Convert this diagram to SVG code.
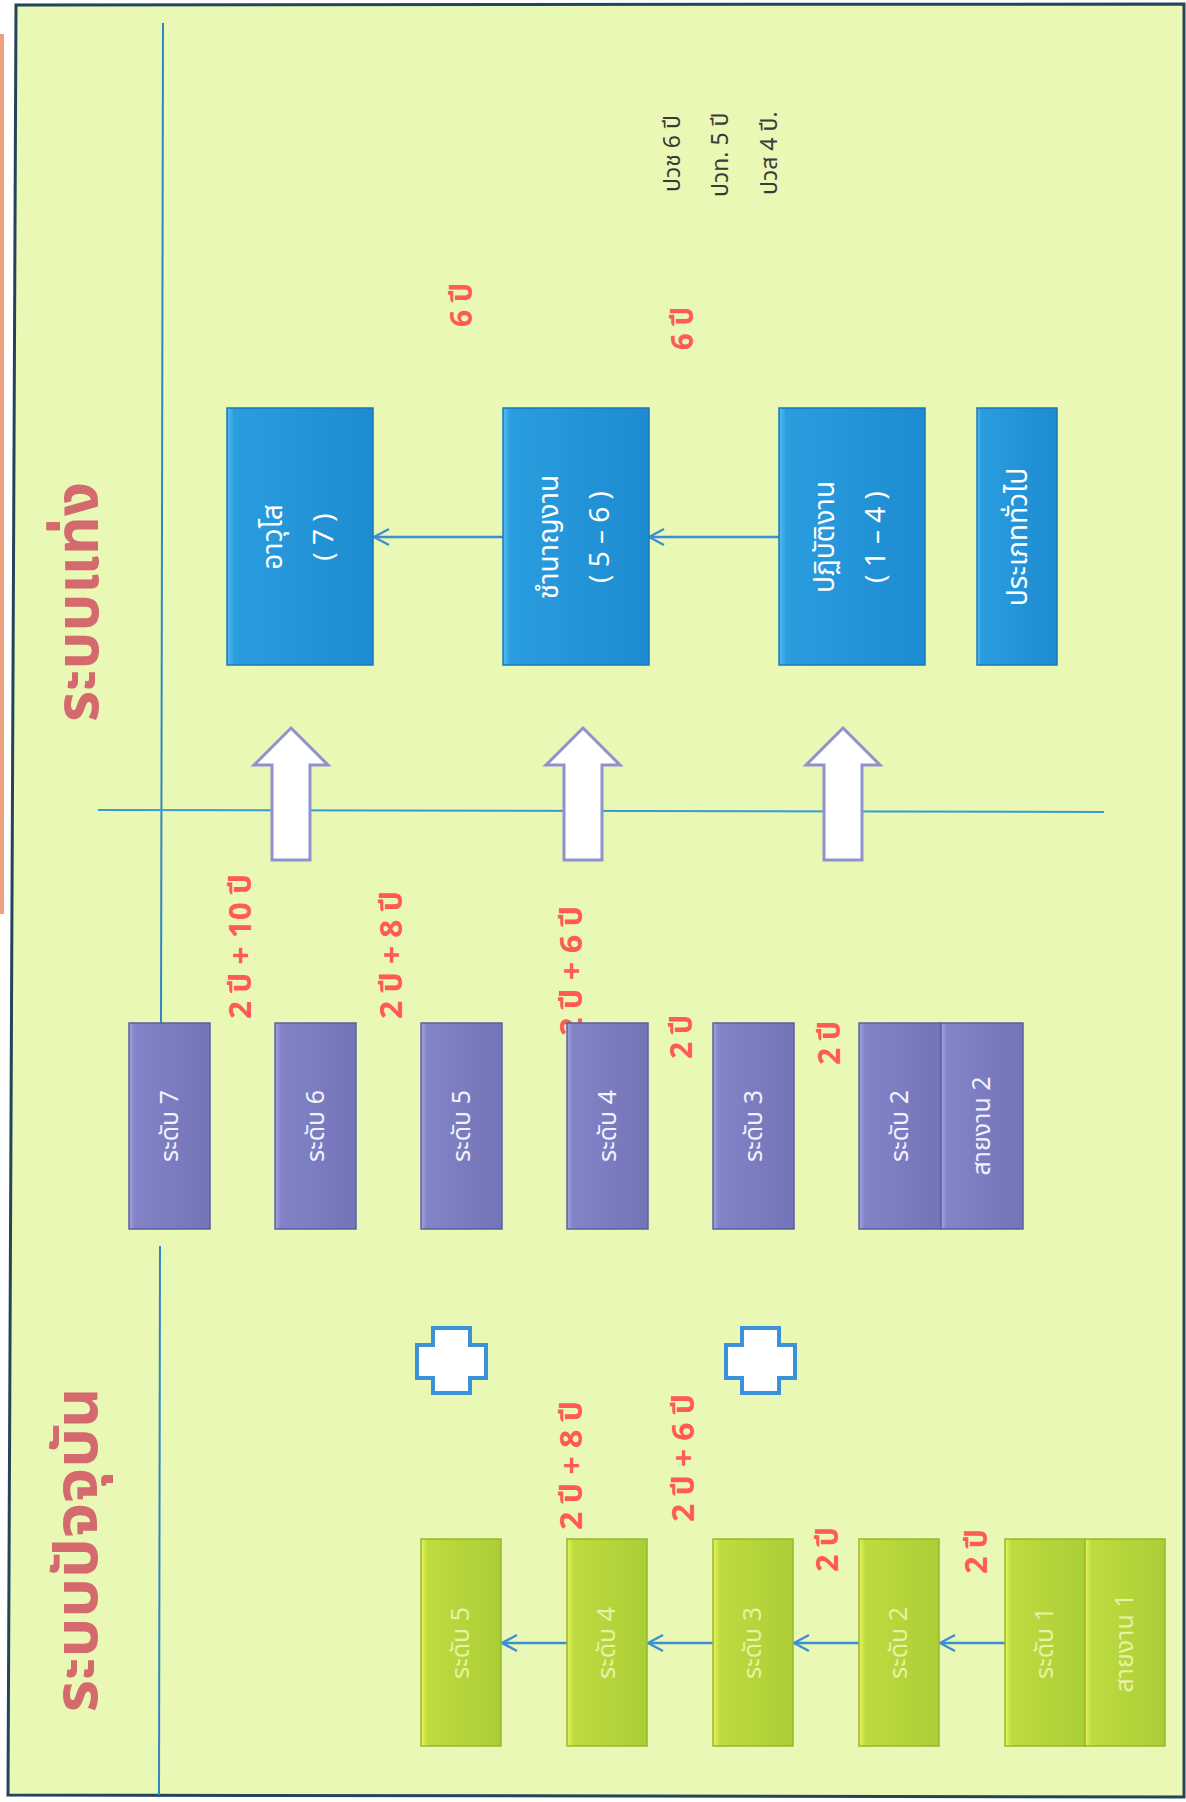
<svg xmlns="http://www.w3.org/2000/svg" width="1186" height="1802" viewBox="0 0 1186 1802">
<style>
.th{font-family:'Noto Sans Thai','Noto Sans','DejaVu Sans',sans-serif}
.title{font-size:60px;font-weight:bold;fill:#d4696e}
.red{font-size:30px;font-weight:bold;fill:#ff5a55}
.blk{font-size:23px;fill:#3a3a3a}
.bt{font-size:28px;fill:#ffffff}
.pt{font-size:25px;fill:#f2f2ff}
.gt{font-size:25px;fill:#e6f2a4}
.conn{stroke:#3a90d2;stroke-width:2.5;fill:none}
.guide{stroke:#2f86c0;stroke-width:2;fill:none}
.barrow{fill:#ffffff;stroke:#9092cf;stroke-width:3;stroke-linejoin:miter}
.plus{fill:#ffffff;stroke:#3c92d8;stroke-width:4}
.bluebox{fill:url(#gBlue);stroke:#1a78bb;stroke-width:1.5}
.purplebox{fill:url(#gPurple);stroke:#5e5f9f;stroke-width:1.5}
.greenbox{fill:url(#gGreen);stroke:#97b82c;stroke-width:1.5}
</style>
<defs>
<linearGradient id="gBlue" x1="0" y1="0" x2="1" y2="0">
<stop offset="0" stop-color="#55bdf0"/><stop offset="0.05" stop-color="#2a9ddf"/><stop offset="1" stop-color="#1d8bd0"/>
</linearGradient>
<linearGradient id="gPurple" x1="0" y1="0" x2="1" y2="0">
<stop offset="0" stop-color="#a3a4dc"/><stop offset="0.07" stop-color="#8384c8"/><stop offset="1" stop-color="#7374b8"/>
</linearGradient>
<linearGradient id="gGreen" x1="0" y1="0" x2="1" y2="0">
<stop offset="0" stop-color="#e8f45a"/><stop offset="0.08" stop-color="#bedc40"/><stop offset="1" stop-color="#abcd36"/>
</linearGradient>
<marker id="arr" viewBox="0 0 20 20" refX="18" refY="10" markerWidth="20" markerHeight="20" markerUnits="userSpaceOnUse" orient="auto">
<path d="M3,2 L18,10 L3,18" fill="none" stroke="#3a90d2" stroke-width="2.5"/>
</marker>
</defs>

<!-- page -->
<rect x="0" y="0" width="1186" height="1802" fill="#ffffff"/>
<rect x="0" y="34" width="4" height="880" fill="#e98a5e" opacity="0.8"/>
<path d="M16,5 L1184,4 L1184,1797 L8,1795 Z" fill="#eaf8b6" stroke="#24445a" stroke-width="3"/>

<!-- guide lines -->
<g id="guides">
<line class="guide" x1="163" y1="23" x2="161" y2="1023"/>
<line class="guide" x1="160" y1="1246" x2="159" y2="1795"/>
<line class="guide" x1="98" y1="810" x2="1104" y2="812" style="stroke:#3a9cc8"/>
</g>

<!-- titles -->
<text class="th title" transform="translate(98,602) rotate(-90)" text-anchor="middle" textLength="240" lengthAdjust="spacingAndGlyphs">ระบบแท่ง</text>
<text class="th title" transform="translate(97,1550) rotate(-90)" text-anchor="middle" textLength="325" lengthAdjust="spacingAndGlyphs">ระบบปัจจุบัน</text>

<!-- notes -->
<text class="th blk" transform="translate(680,192) rotate(-90)">ปวช 6 ปี</text>
<text class="th blk" transform="translate(728,197) rotate(-90)">ปวท. 5 ปี</text>
<text class="th blk" transform="translate(777,195) rotate(-90)">ปวส 4 ปี.</text>

<!-- red labels -->
<g id="labels">
<text class="th red" transform="translate(472,327) rotate(-90)" textLength="44" lengthAdjust="spacingAndGlyphs">6 ปี</text>
<text class="th red" transform="translate(693,350) rotate(-90)" textLength="43" lengthAdjust="spacingAndGlyphs">6 ปี</text>
<text class="th red" transform="translate(251,1019) rotate(-90)" textLength="145" lengthAdjust="spacingAndGlyphs">2 ปี + 10 ปี</text>
<text class="th red" transform="translate(402,1019) rotate(-90)" textLength="128" lengthAdjust="spacingAndGlyphs">2 ปี + 8 ปี</text>
<text class="th red" transform="translate(582,1036) rotate(-90)" textLength="130" lengthAdjust="spacingAndGlyphs">2 ปี + 6 ปี</text>
<text class="th red" transform="translate(692,1059) rotate(-90)" textLength="44" lengthAdjust="spacingAndGlyphs">2 ปี</text>
<text class="th red" transform="translate(840,1065) rotate(-90)" textLength="44" lengthAdjust="spacingAndGlyphs">2 ปี</text>
<text class="th red" transform="translate(582,1530) rotate(-90)" textLength="129" lengthAdjust="spacingAndGlyphs">2 ปี + 8 ปี</text>
<text class="th red" transform="translate(694,1522) rotate(-90)" textLength="128" lengthAdjust="spacingAndGlyphs">2 ปี + 6 ปี</text>
<text class="th red" transform="translate(838,1572) rotate(-90)" textLength="45" lengthAdjust="spacingAndGlyphs">2 ปี</text>
<text class="th red" transform="translate(987,1574) rotate(-90)" textLength="45" lengthAdjust="spacingAndGlyphs">2 ปี</text>
</g>

<!-- connectors -->
<g id="connectors">
<line class="conn" x1="503" y1="537" x2="374" y2="537" marker-end="url(#arr)"/>
<line class="conn" x1="779" y1="537" x2="649" y2="537" marker-end="url(#arr)"/>
<line class="conn" x1="567" y1="1643" x2="502" y2="1643" marker-end="url(#arr)"/>
<line class="conn" x1="713" y1="1643" x2="648" y2="1643" marker-end="url(#arr)"/>
<line class="conn" x1="859" y1="1643" x2="794" y2="1643" marker-end="url(#arr)"/>
<line class="conn" x1="1005" y1="1643" x2="940" y2="1643" marker-end="url(#arr)"/>
</g>

<!-- block arrows -->
<g id="up-arrow-1"><polygon class="barrow" points="291,728 328,765 310,765 310,860 272,860 272,765 254,765"/></g>
<g id="up-arrow-2"><polygon class="barrow" points="583,728 620,765 602,765 602,860 564,860 564,765 546,765"/></g>
<g id="up-arrow-3"><polygon class="barrow" points="843,728 880,765 862,765 862,860 824,860 824,765 806,765"/></g>

<!-- plus signs -->
<g id="plus-1"><polygon class="plus" points="433,1328 470,1328 470,1345 486,1345 486,1378 470,1378 470,1393 433,1393 433,1378 417,1378 417,1345 433,1345"/></g>
<g id="plus-2"><polygon class="plus" points="742,1328 779,1328 779,1345 795,1345 795,1378 779,1378 779,1393 742,1393 742,1378 726,1378 726,1345 742,1345"/></g>

<!-- blue nodes -->
<g id="node-avuso">
<rect class="bluebox" x="227" y="408" width="146" height="257"/>
<text class="th bt" transform="translate(300,537) rotate(-90)" text-anchor="middle"><tspan x="0" y="-18">อาวุโส</tspan><tspan x="0" y="33">( 7 )</tspan></text>
</g>
<g id="node-chamnan">
<rect class="bluebox" x="503" y="408" width="146" height="257"/>
<text class="th bt" transform="translate(576,537) rotate(-90)" text-anchor="middle"><tspan x="0" y="-18">ชำนาญงาน</tspan><tspan x="0" y="33">( 5 – 6 )</tspan></text>
</g>
<g id="node-patibat">
<rect class="bluebox" x="779" y="408" width="146" height="257"/>
<text class="th bt" transform="translate(852,537) rotate(-90)" text-anchor="middle"><tspan x="0" y="-18">ปฏิบัติงาน</tspan><tspan x="0" y="33">( 1 – 4 )</tspan></text>
</g>
<g id="node-general">
<rect class="bluebox" x="977" y="408" width="80" height="257"/>
<text class="th bt" transform="translate(1027,537) rotate(-90)" text-anchor="middle">ประเภททั่วไป</text>
</g>

<!-- purple nodes -->
<g id="node-p7"><rect class="purplebox" x="129" y="1023" width="81" height="206"/><text class="th pt" transform="translate(178,1126) rotate(-90)" text-anchor="middle">ระดับ 7</text></g>
<g id="node-p6"><rect class="purplebox" x="275" y="1023" width="81" height="206"/><text class="th pt" transform="translate(324,1126) rotate(-90)" text-anchor="middle">ระดับ 6</text></g>
<g id="node-p5"><rect class="purplebox" x="421" y="1023" width="81" height="206"/><text class="th pt" transform="translate(470,1126) rotate(-90)" text-anchor="middle">ระดับ 5</text></g>
<g id="node-p4"><rect class="purplebox" x="567" y="1023" width="81" height="206"/><text class="th pt" transform="translate(616,1126) rotate(-90)" text-anchor="middle">ระดับ 4</text></g>
<g id="node-p3"><rect class="purplebox" x="713" y="1023" width="81" height="206"/><text class="th pt" transform="translate(762,1126) rotate(-90)" text-anchor="middle">ระดับ 3</text></g>
<g id="node-p2"><rect class="purplebox" x="859" y="1023" width="82" height="206"/><text class="th pt" transform="translate(908,1126) rotate(-90)" text-anchor="middle">ระดับ 2</text></g>
<g id="node-ps2"><rect class="purplebox" x="941" y="1023" width="82" height="206"/><text class="th pt" transform="translate(990,1126) rotate(-90)" text-anchor="middle">สายงาน 2</text></g>

<!-- green nodes -->
<g id="node-g5"><rect class="greenbox" x="421" y="1539" width="80" height="207"/><text class="th gt" transform="translate(469,1643) rotate(-90)" text-anchor="middle">ระดับ 5</text></g>
<g id="node-g4"><rect class="greenbox" x="567" y="1539" width="80" height="207"/><text class="th gt" transform="translate(615,1643) rotate(-90)" text-anchor="middle">ระดับ 4</text></g>
<g id="node-g3"><rect class="greenbox" x="713" y="1539" width="80" height="207"/><text class="th gt" transform="translate(761,1643) rotate(-90)" text-anchor="middle">ระดับ 3</text></g>
<g id="node-g2"><rect class="greenbox" x="859" y="1539" width="80" height="207"/><text class="th gt" transform="translate(907,1643) rotate(-90)" text-anchor="middle">ระดับ 2</text></g>
<g id="node-g1"><rect class="greenbox" x="1005" y="1539" width="80" height="207"/><text class="th gt" transform="translate(1053,1643) rotate(-90)" text-anchor="middle">ระดับ 1</text></g>
<g id="node-gs1"><rect class="greenbox" x="1085" y="1539" width="80" height="207"/><text class="th gt" transform="translate(1133,1643) rotate(-90)" text-anchor="middle">สายงาน 1</text></g>
</svg>
